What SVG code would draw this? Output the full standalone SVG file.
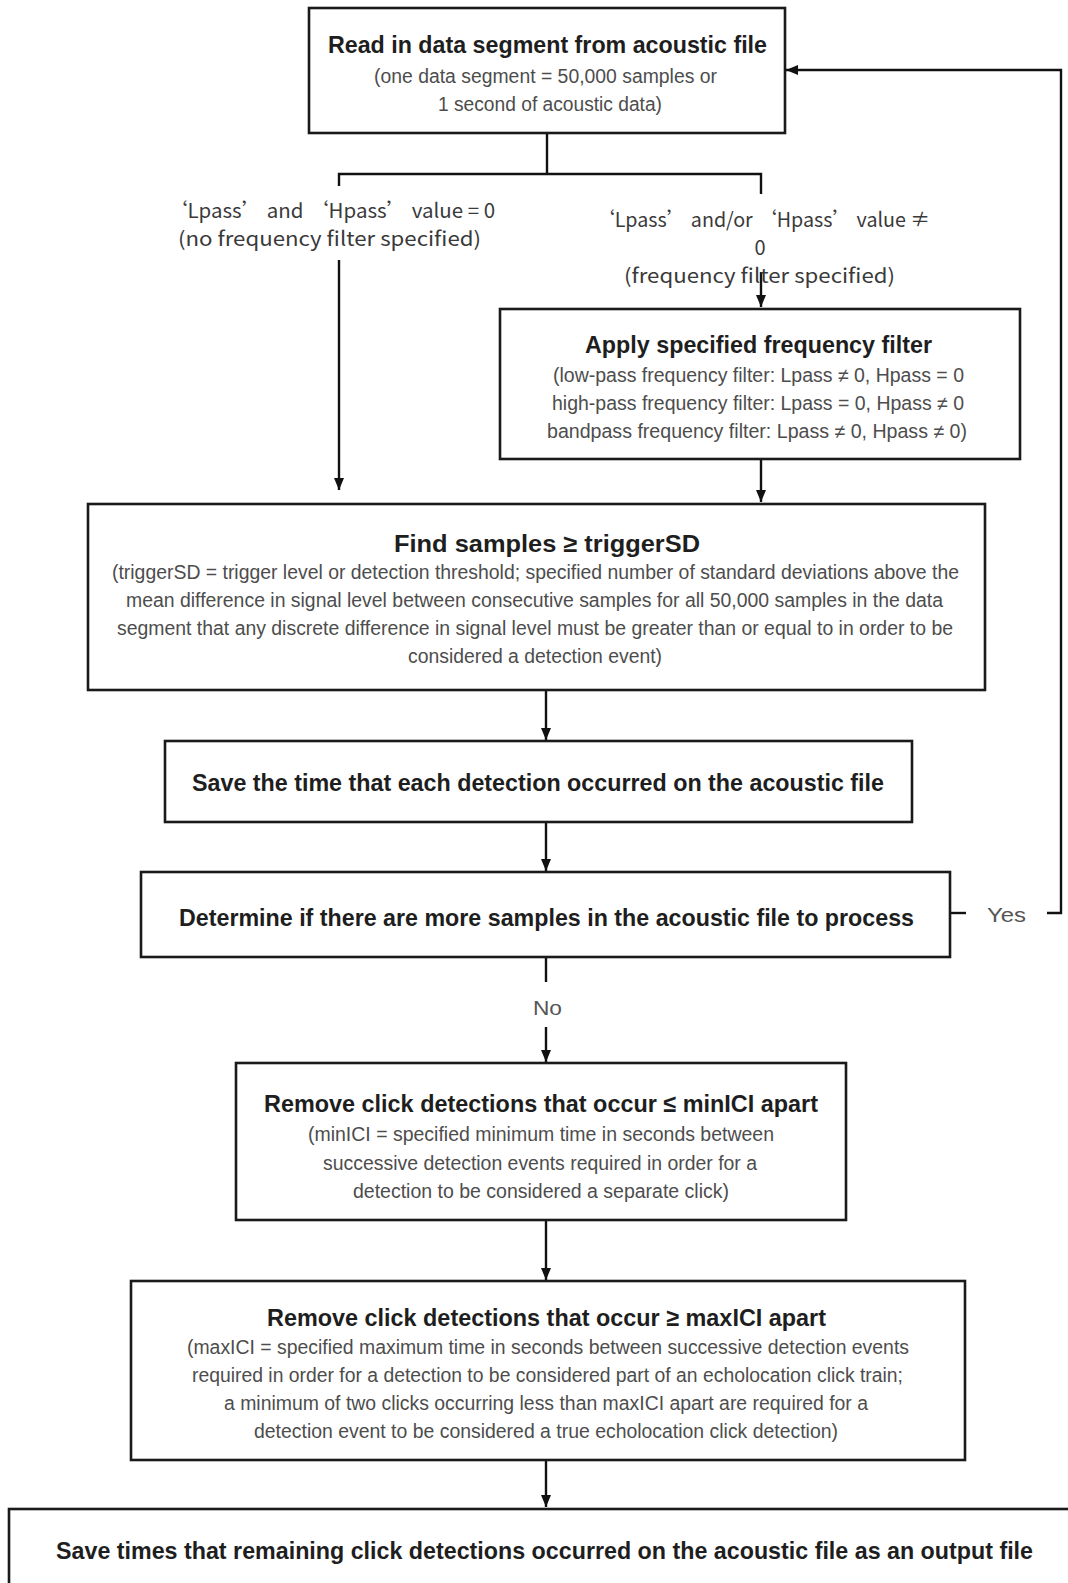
<svg xmlns="http://www.w3.org/2000/svg" width="1068" height="1583" viewBox="0 0 1068 1583">
<defs>
<style>
.box{fill:#fff;stroke:#1a1a1a;stroke-width:2.6}
.title{font-family:"Liberation Sans",Arial,sans-serif;font-weight:bold;font-size:24.5px;fill:#1e1e1e;text-anchor:middle}
.sub{font-family:"Liberation Sans",Arial,sans-serif;font-size:19.5px;fill:#4d4d4d;text-anchor:middle}
.lbl{font-family:"Noto Sans CJK SC","Noto Sans",sans-serif;font-size:20px;fill:#3a3a3a;text-anchor:middle}
.yn{font-family:"Liberation Sans",Arial,sans-serif;font-size:20.5px;fill:#555;text-anchor:middle}
.conn{fill:none;stroke:#111;stroke-width:2.4}
</style>
<marker id="arr" viewBox="0 0 12 10" refX="12" refY="5" markerWidth="12" markerHeight="10" markerUnits="userSpaceOnUse" orient="auto">
<path d="M0,0 L12,5 L0,10 z" fill="#111"/>
</marker>
</defs>
<rect width="1068" height="1583" fill="#fff"/>

<g id="connectors">
<path class="conn" d="M547 133 V174"/>
<path class="conn" d="M339 186 V174 H761 V194"/>
<path class="conn" d="M339 260 V490" marker-end="url(#arr)"/>
<path class="conn" d="M761 272 V307" marker-end="url(#arr)"/>
<path class="conn" d="M761 459 V502" marker-end="url(#arr)"/>
<path class="conn" d="M546 690 V740" marker-end="url(#arr)"/>
<path class="conn" d="M546 822 V871" marker-end="url(#arr)"/>
<path class="conn" d="M546 957 V982"/>
<path class="conn" d="M546 1027 V1062" marker-end="url(#arr)"/>
<path class="conn" d="M546 1220 V1280" marker-end="url(#arr)"/>
<path class="conn" d="M546 1460 V1507" marker-end="url(#arr)"/>
<path class="conn" d="M950 913 H966"/>
<path class="conn" d="M1047 913 H1061 V70 H786" marker-end="url(#arr)"/>
<text class="yn" x="1006.5" y="922" textLength="39" lengthAdjust="spacingAndGlyphs">Yes</text>
<text class="yn" x="547.5" y="1015" textLength="29" lengthAdjust="spacingAndGlyphs">No</text>
<text class="lbl" x="331" y="218" textLength="328" lengthAdjust="spacingAndGlyphs">‘Lpass’ and ‘Hpass’ value = 0</text>
<text class="lbl" x="329.5" y="246" textLength="303" lengthAdjust="spacingAndGlyphs">(no frequency filter specified)</text>
<text class="lbl" x="762.5" y="227" textLength="335" lengthAdjust="spacingAndGlyphs">‘Lpass’ and/or ‘Hpass’ value ≠</text>
<text class="lbl" x="760" y="255">0</text>
<text class="lbl" x="759.5" y="283" textLength="271" lengthAdjust="spacingAndGlyphs">(frequency filter specified)</text>
</g>

<g id="read">
<rect class="box" x="309" y="8" width="476" height="125"/>
<text class="title" x="547.5" y="53" textLength="439" lengthAdjust="spacingAndGlyphs">Read in data segment from acoustic file</text>
<text class="sub" x="545.5" y="83" textLength="343" lengthAdjust="spacingAndGlyphs">(one data segment = 50,000 samples or</text>
<text class="sub" x="550" y="111" textLength="224" lengthAdjust="spacingAndGlyphs">1 second of acoustic data)</text>
</g>

<g id="apply">
<rect class="box" x="500" y="309" width="520" height="150"/>
<text class="title" x="758.5" y="353" textLength="347" lengthAdjust="spacingAndGlyphs">Apply specified frequency filter</text>
<text class="sub" x="758.5" y="382" textLength="411" lengthAdjust="spacingAndGlyphs">(low-pass frequency filter: Lpass ≠ 0, Hpass = 0</text>
<text class="sub" x="758" y="410" textLength="412" lengthAdjust="spacingAndGlyphs">high-pass frequency filter: Lpass = 0, Hpass ≠ 0</text>
<text class="sub" x="757" y="438" textLength="420" lengthAdjust="spacingAndGlyphs">bandpass frequency filter: Lpass ≠ 0, Hpass ≠ 0)</text>
</g>

<g id="find">
<rect class="box" x="88" y="504" width="897" height="186"/>
<text class="title" x="547" y="552" textLength="306" lengthAdjust="spacingAndGlyphs">Find samples ≥ triggerSD</text>
<text class="sub" x="535.5" y="579" textLength="847" lengthAdjust="spacingAndGlyphs">(triggerSD = trigger level or detection threshold; specified number of standard deviations above the</text>
<text class="sub" x="534.5" y="607" textLength="817" lengthAdjust="spacingAndGlyphs">mean difference in signal level between consecutive samples for all 50,000 samples in the data</text>
<text class="sub" x="535" y="635" textLength="836" lengthAdjust="spacingAndGlyphs">segment that any discrete difference in signal level must be greater than or equal to in order to be</text>
<text class="sub" x="535" y="663" textLength="254" lengthAdjust="spacingAndGlyphs">considered a detection event)</text>
</g>

<g id="save">
<rect class="box" x="165" y="741" width="747" height="81"/>
<text class="title" x="538" y="791" textLength="692" lengthAdjust="spacingAndGlyphs">Save the time that each detection occurred on the acoustic file</text>
</g>

<g id="determine">
<rect class="box" x="141" y="872" width="809" height="85"/>
<text class="title" x="546.5" y="926" textLength="735" lengthAdjust="spacingAndGlyphs">Determine if there are more samples in the acoustic file to process</text>
</g>

<g id="removeMin">
<rect class="box" x="236" y="1063" width="610" height="157"/>
<text class="title" x="541" y="1112" textLength="554" lengthAdjust="spacingAndGlyphs">Remove click detections that occur ≤ minICI apart</text>
<text class="sub" x="541" y="1141" textLength="466" lengthAdjust="spacingAndGlyphs">(minICI = specified minimum time in seconds between</text>
<text class="sub" x="540" y="1170" textLength="434" lengthAdjust="spacingAndGlyphs">successive detection events required in order for a</text>
<text class="sub" x="541" y="1198" textLength="376" lengthAdjust="spacingAndGlyphs">detection to be considered a separate click)</text>
</g>

<g id="removeMax">
<rect class="box" x="131" y="1281" width="834" height="179"/>
<text class="title" x="546.5" y="1326" textLength="559" lengthAdjust="spacingAndGlyphs">Remove click detections that occur ≥ maxICI apart</text>
<text class="sub" x="548" y="1354" textLength="722" lengthAdjust="spacingAndGlyphs">(maxICI = specified maximum time in seconds between successive detection events</text>
<text class="sub" x="547.5" y="1382" textLength="711" lengthAdjust="spacingAndGlyphs">required in order for a detection to be considered part of an echolocation click train;</text>
<text class="sub" x="546" y="1410" textLength="644" lengthAdjust="spacingAndGlyphs">a minimum of two clicks occurring less than maxICI apart are required for a</text>
<text class="sub" x="546" y="1438" textLength="584" lengthAdjust="spacingAndGlyphs">detection event to be considered a true echolocation click detection)</text>
</g>

<g id="output">
<rect class="box" x="9" y="1509" width="1100" height="120"/>
<text class="title" x="544.5" y="1559" textLength="977" lengthAdjust="spacingAndGlyphs">Save times that remaining click detections occurred on the acoustic file as an output file</text>
</g>
</svg>
